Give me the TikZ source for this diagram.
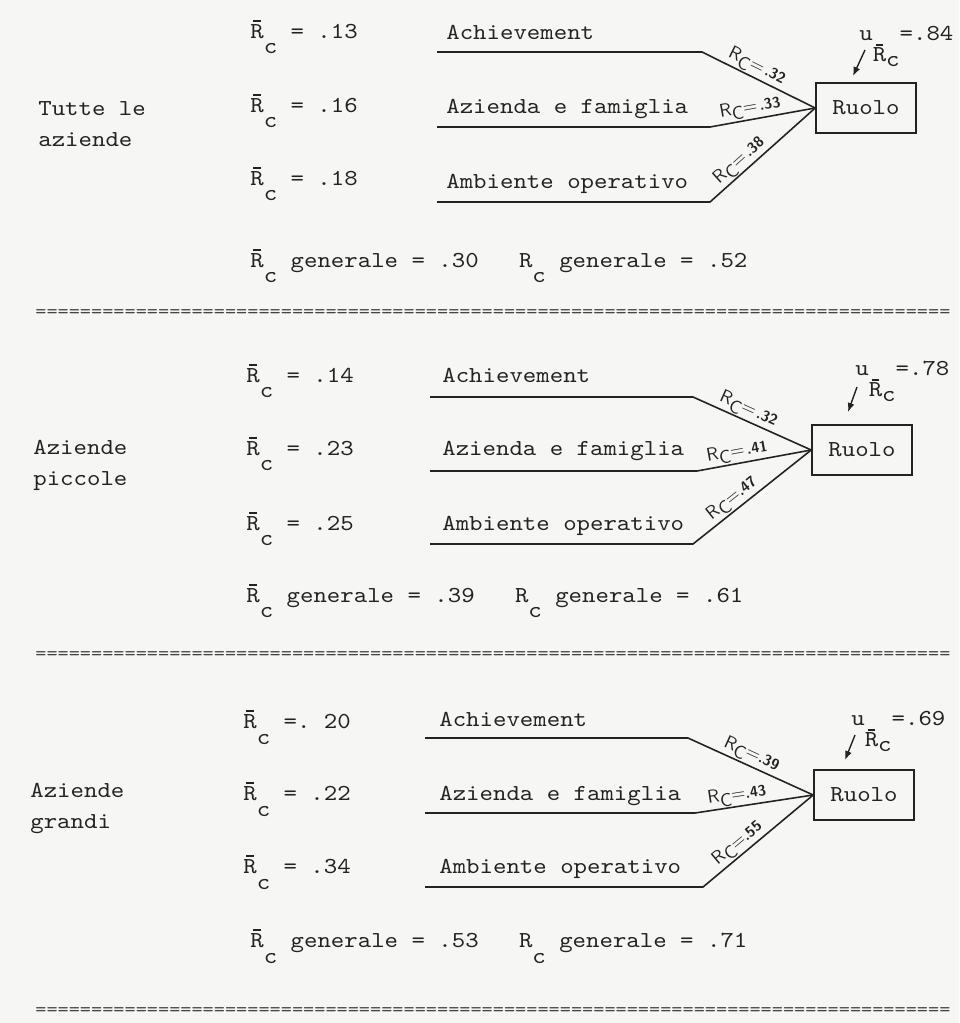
\documentclass[tikz,border=0pt]{standalone}
\usepackage{fontspec}
\setmonofont{lmmono10-regular.otf}[FakeStretch=1.12]
\usetikzlibrary{arrows.meta,positioning}
\definecolor{paper}{RGB}{246,246,244}
\definecolor{ink}{RGB}{35,35,35}
\newcommand{\Rb}{\rlap{\kern0.13em\rule[0.72em]{0.33em}{0.06em}}R}
\newcommand{\sbc}[1]{\raisebox{-0.7em}{#1}}
\newcommand{\rclab}[1]{R\raisebox{-3pt}{C}=\fontsize{8.5}{8.5}\selectfont\bfseries#1}
\newcommand{\eqline}{\foreach \k in {1,...,82}{=}}
\tikzset{
  tw/.style={font=\ttfamily\fontsize{13}{17.6}\selectfont, text=ink, inner sep=0pt, anchor=base west},
  grp/.style={tw, align=left},
  ruolo/.style={draw=ink, line width=0.9pt, font=\ttfamily\fontsize{13}{15}\selectfont, text=ink, minimum width=2cm, minimum height=1cm},
  link/.style={draw=ink, line width=0.9pt},
  rclab/.style={font=\sffamily\fontsize{10.5}{10.5}\selectfont, text=ink, sloped, above, inner sep=0.5pt},
  uarrow/.style={-{Latex[length=1.8mm,width=1.4mm]}, draw=ink, line width=0.8pt},
  sepline/.style={font=\ttfamily\fontsize{10.8}{12}\selectfont, text=ink!85, inner sep=0pt, anchor=west}
}
\begin{document}
\begin{tikzpicture}[x=0.2mm, y=-0.2mm]
\fill[paper] (0,0) rectangle (959,1023);
\useasboundingbox (0,0) rectangle (959,1023);
% tutte le aziende
\node[grp] (grp1) at (38,146) {Tutte le\\aziende};
\node[tw] (rc11) at (250,38) {\Rb\sbc{c} = .13};
\node[tw] (rc12) at (250,112) {\Rb\sbc{c} = .16};
\node[tw] (rc13) at (250,185) {\Rb\sbc{c} = .18};
\node[tw] (ph11) at (446,39) {Achievement};
\node[tw] (ph12) at (446,113) {Azienda e famiglia};
\node[tw] (ph13) at (446,188) {Ambiente operativo};
\node[ruolo] (r1) at (866,108) {Ruolo};
\node[tw] (u1) at (859,40) {u\raisebox{-12.5pt}{\Rb\raisebox{-2.8pt}{c}}=.84};
\coordinate (ua1) at (865,50);
\coordinate (ub1) at (853,76);
\draw[uarrow] (ua1) -- (ub1);
\coordinate (s11) at (437,52);
\coordinate (k11) at (702,52);
\coordinate (s12) at (437,127);
\coordinate (k12) at (710,127);
\coordinate (s13) at (437,202);
\coordinate (k13) at (710,202);
\draw[link] (s11) -- (k11) -- (r1.west) node[rclab, pos=0.44] {\rclab{\,.32}};
\draw[link] (s12) -- (k12) -- (r1.west) node[rclab, pos=0.4] {\rclab{\,.33}};
\draw[link] (s13) -- (k13) -- (r1.west) node[rclab, pos=0.35] {\rclab{\,.38}};
\node[tw] (gen1) at (250,267) {\Rb\sbc{c} generale = .30\ \ \ R\sbc{c} generale = .52};
\node[sepline] (sep1) at (35,314) {\eqline};
% aziende piccole
\node[grp] (grp2) at (33,485) {Aziende\\piccole};
\node[tw] (rc21) at (246,382) {\Rb\sbc{c} = .14};
\node[tw] (rc22) at (246,455) {\Rb\sbc{c} = .23};
\node[tw] (rc23) at (246,530) {\Rb\sbc{c} = .25};
\node[tw] (ph21) at (442,382) {Achievement};
\node[tw] (ph22) at (442,455) {Azienda e famiglia};
\node[tw] (ph23) at (442,530) {Ambiente operativo};
\node[ruolo] (r2) at (862,450) {Ruolo};
\node[tw] (u2) at (855,375) {u\raisebox{-12.5pt}{\Rb\raisebox{-2.8pt}{c}}=.78};
\coordinate (ua2) at (857,387);
\coordinate (ub2) at (848,412);
\draw[uarrow] (ua2) -- (ub2);
\coordinate (s21) at (430,397);
\coordinate (k21) at (693,397);
\coordinate (s22) at (430,471);
\coordinate (k22) at (697,471);
\coordinate (s23) at (430,544);
\coordinate (k23) at (693,544);
\draw[link] (s21) -- (k21) -- (r2.west) node[rclab, pos=0.43] {\rclab{\,.32}};
\draw[link] (s22) -- (k22) -- (r2.west) node[rclab, pos=0.37] {\rclab{\,.41}};
\draw[link] (s23) -- (k23) -- (r2.west) node[rclab, pos=0.39] {\rclab{.47}};
\node[tw] (gen2) at (246,602) {\Rb\sbc{c} generale = .39\ \ \ R\sbc{c} generale = .61};
\node[sepline] (sep2) at (35,656) {\eqline};
% aziende grandi
\node[grp] (grp3) at (30,828) {Aziende\\grandi};
\node[tw] (rc31) at (243,728) {\Rb\sbc{c} =. 20};
\node[tw] (rc32) at (243,800) {\Rb\sbc{c} = .22};
\node[tw] (rc33) at (243,873) {\Rb\sbc{c} = .34};
\node[tw] (ph31) at (439,726) {Achievement};
\node[tw] (ph32) at (439,800) {Azienda e famiglia};
\node[tw] (ph33) at (439,873) {Ambiente operativo};
\node[ruolo] (r3) at (864,795) {Ruolo};
\node[tw] (u3) at (851,725) {u\raisebox{-12.5pt}{\Rb\raisebox{-2.8pt}{c}}=.69};
\coordinate (ua3) at (855,735);
\coordinate (ub3) at (845,760);
\draw[uarrow] (ua3) -- (ub3);
\coordinate (s31) at (425,738);
\coordinate (k31) at (688,738);
\coordinate (s32) at (425,813);
\coordinate (k32) at (695,813);
\coordinate (s33) at (425,887);
\coordinate (k33) at (703,887);
\draw[link] (s31) -- (k31) -- (r3.west) node[rclab, pos=0.47] {\rclab{.39}};
\draw[link] (s32) -- (k32) -- (r3.west) node[rclab, pos=0.37] {\rclab{.43}};
\draw[link] (s33) -- (k33) -- (r3.west) node[rclab, pos=0.38] {\rclab{.55}};
\node[tw] (gen3) at (250,947) {\Rb\sbc{c} generale = .53\ \ \ R\sbc{c} generale = .71};
\node[sepline] (sep3) at (35,1012) {\eqline};
\end{tikzpicture}
\end{document}
